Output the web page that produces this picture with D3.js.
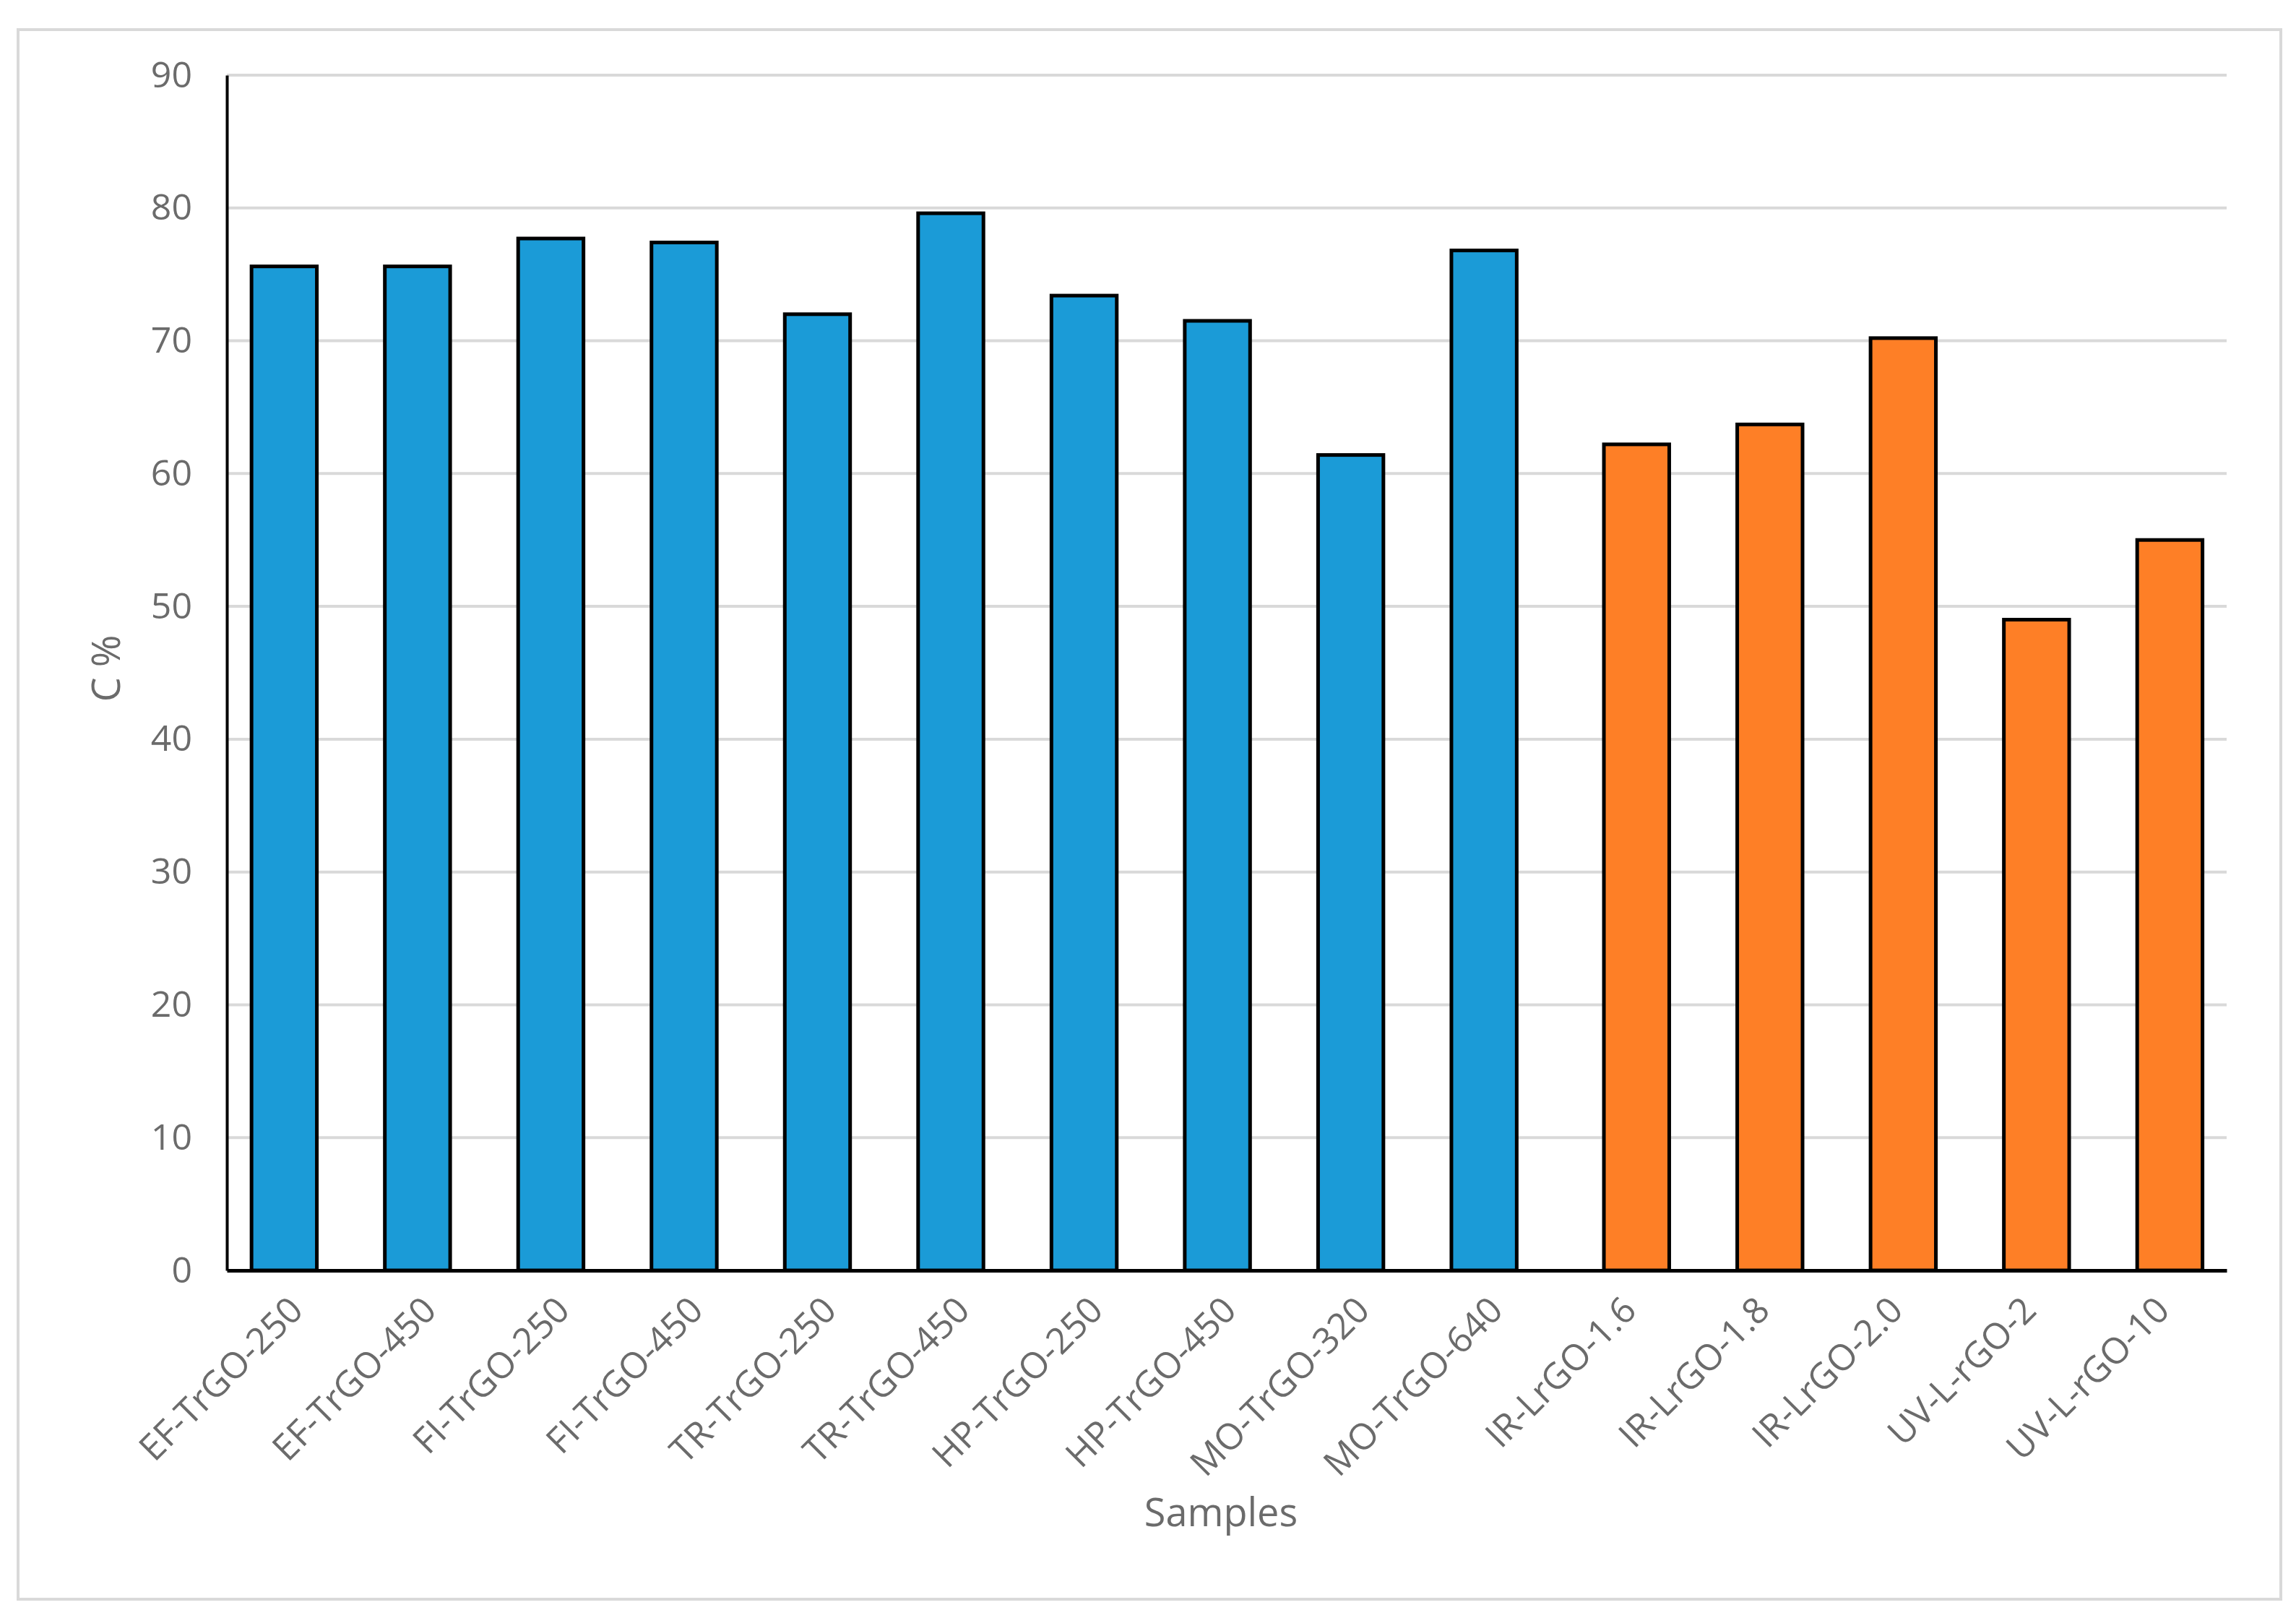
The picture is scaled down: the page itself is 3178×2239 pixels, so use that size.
<!DOCTYPE html>
<html>
<head>
<meta charset="utf-8">
<script src="https://cdn.jsdelivr.net/npm/d3@7"></script>
<style>
  html, body { margin: 0; padding: 0; background: #ffffff; }
  svg { display: block; }
  text { font-family: "Open Sans", "Noto Sans", sans-serif; }
</style>
</head>
<body>
<svg id="chart" width="3178" height="2239"></svg>
<script>
// ---- data ----
const categories = ["EF-TrGO-250","EF-TrGO-450","FI-TrGO-250","FI-TrGO-450","TR-TrGO-250","TR-TrGO-450",
  "HP-TrGO-250","HP-TrGO-450","MO-TrGO-320","MO-TrGO-640","IR-LrGO-1.6","IR-LrGO-1.8","IR-LrGO-2.0",
  "UV-L-rGO-2","UV-L-rGO-10"];
const seriesNames = ["TrGO","LrGO"];
const trgoValues = [75.6, 75.6, 77.7, 77.4, 72.0, 79.6, 73.4, 71.5, 61.4, 76.8, null, null, null, null, null];
const lrgoValues = [null, null, null, null, null, null, null, null, null, null, 62.2, 63.7, 70.2, 49.0, 55.0];
const yTicks = [0, 10, 20, 30, 40, 50, 60, 70, 80, 90];
const seriesColors = ["#1b9bd7", "#fe7f26"];
const xTitle = "Samples";
const yTitle = "C %";

// ---- layout ----
const W = 3178, H = 2239;
const plot = { left: 314, right: 3082, top: 104, bottom: 1758 };

const svg = d3.select("#chart");
svg.append("rect").attr("width", W).attr("height", H).attr("fill", "#ffffff");

// outer frame
svg.append("rect")
  .attr("x", 25).attr("y", 41).attr("width", 3132).attr("height", 2172)
  .attr("fill", "none").attr("stroke", "#d9d9d9").attr("stroke-width", 4);

const x = d3.scaleBand().domain(categories).range([plot.left, plot.right]).padding(0);
const bw = x.bandwidth();
const xSeries = d3.scalePoint().domain(seriesNames).range([0.43 * bw, 0.574 * bw]);
const barW = 0.49 * bw;
const y = d3.scaleLinear().domain([0, 90]).range([plot.bottom, plot.top]);

// gridlines
svg.append("g")
  .selectAll("line").data(yTicks.filter(d => d > 0)).join("line")
  .attr("x1", plot.left).attr("x2", plot.right)
  .attr("y1", d => y(d)).attr("y2", d => y(d))
  .attr("stroke", "#d9d9d9").attr("stroke-width", 4);

// bars
const series = [trgoValues, lrgoValues];
series.forEach((vals, si) => {
  const data = categories.map((c, i) => ({ c, v: vals[i] })).filter(d => d.v != null);
  svg.append("g")
    .selectAll("rect").data(data).join("rect")
    .attr("x", d => x(d.c) + xSeries(seriesNames[si]) - barW / 2)
    .attr("y", d => y(d.v))
    .attr("width", barW)
    .attr("height", d => y(0) - y(d.v))
    .attr("fill", seriesColors[si])
    .attr("stroke", "#000000")
    .attr("stroke-width", 5);
});

// y axis
const yAxis = d3.axisLeft(y).tickValues(yTicks).tickSize(0).tickPadding(48);
const gy = svg.append("g").attr("transform", `translate(${plot.left},0)`).call(yAxis);
gy.select(".domain").attr("stroke", "#000").attr("stroke-width", 4);
gy.selectAll("text").attr("font-size", 50).attr("fill", "#6b6b6b")
  .attr("font-family", "'Open Sans', sans-serif");

// x axis
const xAxis = d3.axisBottom(x).tickSize(0).tickPadding(0);
const gx = svg.append("g").attr("transform", `translate(0,${plot.bottom})`).call(xAxis);
gx.select(".domain").attr("stroke", "#000").attr("stroke-width", 5);
gx.selectAll("text")
  .attr("font-size", 50).attr("fill", "#6b6b6b")
  .attr("font-family", "'Open Sans', sans-serif")
  .attr("text-anchor", "end")
  .attr("dy", "0")
  .attr("transform", "translate(16,58) rotate(-45)");

// axis titles
svg.append("text")
  .attr("x", 1690).attr("y", 2112)
  .attr("text-anchor", "middle")
  .attr("font-size", 54).attr("fill", "#6b6b6b")
  .text(xTitle);

svg.append("text")
  .attr("transform", "translate(166,925) rotate(-90)")
  .attr("text-anchor", "middle")
  .attr("font-size", 54).attr("fill", "#6b6b6b")
  .text(yTitle);
</script>
</body>
</html>
